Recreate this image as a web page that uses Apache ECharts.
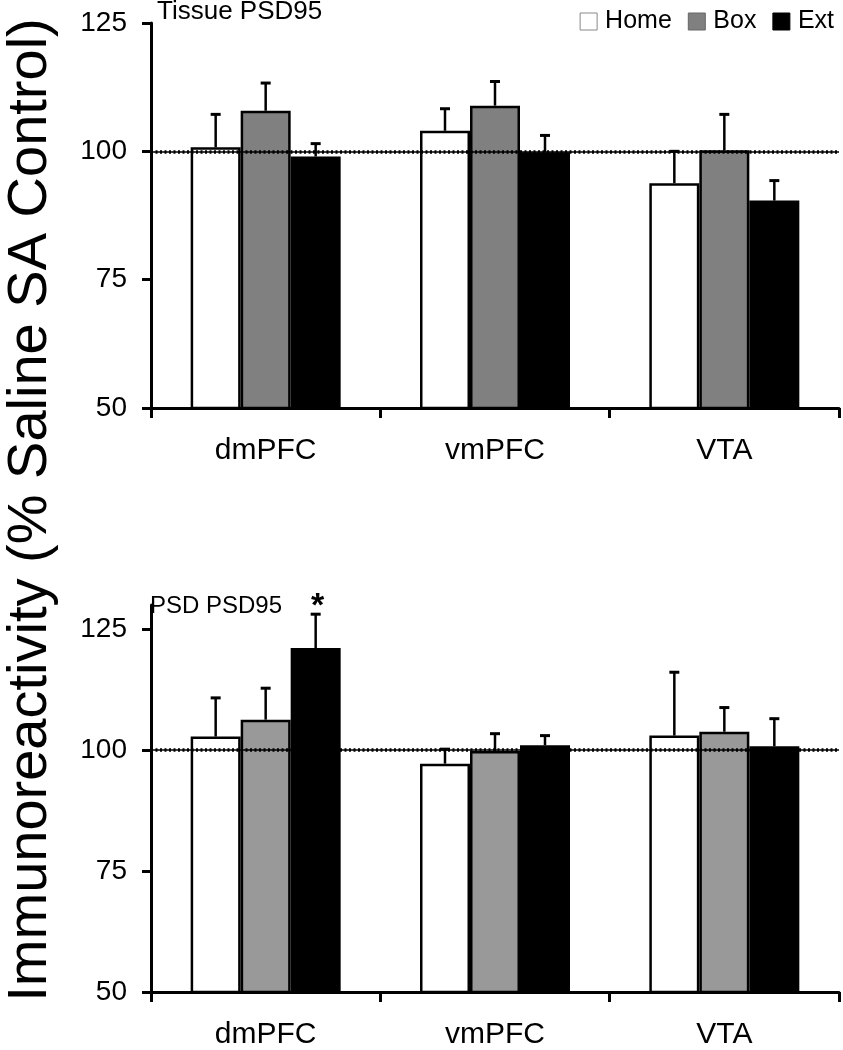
<!DOCTYPE html>
<html><head><meta charset="utf-8">
<script src="https://cdn.jsdelivr.net/npm/echarts@6/dist/echarts.min.js"></script>
<style>html,body{margin:0;padding:0;background:#fff}#c{width:843px;height:1050px}</style>
</head><body><div id="c"></div>
<script>
// ---- data ----
const categories = ['dmPFC', 'vmPFC', 'VTA'];
const groups = ['Home', 'Box', 'Ext'];
const yTicks = [50, 75, 100, 125];
// Tissue PSD95 (top panel): means and SEM
const tissueHome = [100.8, 104.0, 93.8];
const tissueHomeSem = [6.4, 4.3, 6.2];
const tissueBox = [107.9, 108.9, 100.2];
const tissueBoxSem = [5.4, 4.7, 7.0];
const tissueExt = [99.0, 99.8, 90.4];
const tissueExtSem = [2.5, 3.3, 3.9];
// PSD PSD95 (bottom panel): means and SEM
const psdHome = [102.8, 97.2, 103.0];
const psdHomeSem = [8.0, 3.0, 13.1];
const psdBox = [106.3, 99.8, 103.8];
const psdBoxSem = [6.5, 3.6, 5.0];
const psdExt = [121.1, 101.0, 100.8];
const psdExtSem = [7.0, 2.0, 5.7];
const controlLevel = 100;

// ---- styling ----
const FONT = 'Liberation Sans, Arial, sans-serif';
const fills = {
  top: ['#ffffff', '#808080', '#000000'],
  bottom: ['#ffffff', '#999999', '#000000']
};
const BAR_W = 50;

const chart = echarts.init(document.getElementById('c'), null, {renderer: 'canvas'});

function errSeries(means, sems, gi, idx) {
  return {
    type: 'custom',
    xAxisIndex: idx, yAxisIndex: idx,
    z: 5,
    silent: true,
    data: means.map((m, i) => [i, m, m + sems[i]]),
    renderItem: function (params, api) {
      const base = api.coord([api.value(0), api.value(1)]);
      const top = api.coord([api.value(0), api.value(2)]);
      const x = base[0] + (gi - 1) * BAR_W;
      const cap = 5;
      return {
        type: 'group',
        children: [
          {type: 'line', shape: {x1: x, y1: base[1], x2: x, y2: top[1]}, style: {stroke: '#000', lineWidth: 2.5}},
          {type: 'line', shape: {x1: x - cap, y1: top[1], x2: x + cap, y2: top[1]}, style: {stroke: '#000', lineWidth: 3}}
        ]
      };
    }
  };
}

function barSeries(name, data, color, idx, extra) {
  return Object.assign({
    name: name, type: 'bar', xAxisIndex: idx, yAxisIndex: idx,
    data: data, barWidth: BAR_W, barGap: '0%',
    itemStyle: {color: color, borderColor: '#000', borderWidth: 2.5},
    emphasis: {disabled: true}
  }, extra || {});
}

function refLine(idx) {
  return {
    type: 'line', xAxisIndex: idx, yAxisIndex: idx, data: [], z: 6,
    markLine: {
      silent: true, symbol: 'none', label: {show: false},
      data: [
        {yAxis: controlLevel, lineStyle: {color: '#000', width: 1.6, type: 'solid'}},
        {yAxis: controlLevel, lineStyle: {color: '#000', width: 3.5, type: [2, 2.5]}}
      ]
    }
  };
}

const xAxisBase = {
  type: 'category', data: categories,
  axisLine: {lineStyle: {color: '#000', width: 3}},
  axisTick: {show: true, length: 10, lineStyle: {color: '#000', width: 3}, alignWithLabel: false},
  axisLabel: {color: '#000', fontSize: 30, fontFamily: FONT, margin: 28},
  splitLine: {show: false}
};
const yAxisBase = {
  type: 'value', min: 50, interval: 25,
  axisLine: {show: true, lineStyle: {color: '#000', width: 3}},
  axisTick: {show: true, length: 9, lineStyle: {color: '#000', width: 3}, customValues: yTicks},
  axisLabel: {color: '#000', fontSize: 28, fontFamily: FONT, margin: 24, customValues: yTicks},
  splitLine: {show: false}
};

const option = {
  backgroundColor: '#fff',
  animation: false,
  legend: {
    right: 4, top: 4, itemWidth: 17, itemHeight: 17, itemGap: 16,
    icon: 'rect',
    textStyle: {color: '#000', fontSize: 25, fontFamily: FONT, padding: [0, 0, 0, 3]},
    data: [
      {name: 'Home', itemStyle: {color: '#fff', borderColor: '#888', borderWidth: 1}},
      {name: 'Box', itemStyle: {color: '#808080', borderColor: '#666', borderWidth: 1}},
      {name: 'Ext', itemStyle: {color: '#000', borderColor: '#000', borderWidth: 1}}
    ],
    selectedMode: false
  },
  grid: [
    {left: 151, right: 4, top: 23, height: 385},
    {left: 151, right: 4, top: 605, height: 388}
  ],
  xAxis: [
    Object.assign({gridIndex: 0}, xAxisBase),
    Object.assign({gridIndex: 1}, xAxisBase)
  ],
  yAxis: [
    Object.assign({gridIndex: 0, max: 125}, yAxisBase),
    Object.assign({gridIndex: 1, max: 130}, yAxisBase)
  ],
  graphic: [
    {type: 'text', left: 157, top: -1, style: {text: 'Tissue PSD95', fontSize: 26, fontFamily: FONT, fill: '#000'}},
    {type: 'text', left: 150, top: 594, style: {text: 'PSD PSD95', fontSize: 24, fontFamily: FONT, fill: '#000'}},
    {type: 'text', x: 31, y: 510, rotation: Math.PI / 2,
      style: {text: 'Immunoreactivity (% Saline SA Control)', fontSize: 56, fontFamily: FONT, fill: '#000', align: 'center', verticalAlign: 'middle'}}
  ],
  series: [
    barSeries('Home', tissueHome, fills.top[0], 0),
    barSeries('Box', tissueBox, fills.top[1], 0),
    barSeries('Ext', tissueExt, fills.top[2], 0),
    errSeries(tissueHome, tissueHomeSem, 0, 0),
    errSeries(tissueBox, tissueBoxSem, 1, 0),
    errSeries(tissueExt, tissueExtSem, 2, 0),
    refLine(0),
    barSeries('Home', psdHome, fills.bottom[0], 1),
    barSeries('Box', psdBox, fills.bottom[1], 1),
    barSeries('Ext', psdExt, fills.bottom[2], 1, {
      markPoint: {
        silent: true, symbol: 'circle', symbolSize: 0,
        label: {show: true, formatter: '*', color: '#000', fontSize: 34, fontWeight: 'bold', fontFamily: FONT, offset: [2, -8]},
        data: [{coord: [0, psdExt[0] + psdExtSem[0]]}]
      }
    }),
    errSeries(psdHome, psdHomeSem, 0, 1),
    errSeries(psdBox, psdBoxSem, 1, 1),
    errSeries(psdExt, psdExtSem, 2, 1),
    refLine(1)
  ]
};
chart.setOption(option);
</script>
</body></html>
